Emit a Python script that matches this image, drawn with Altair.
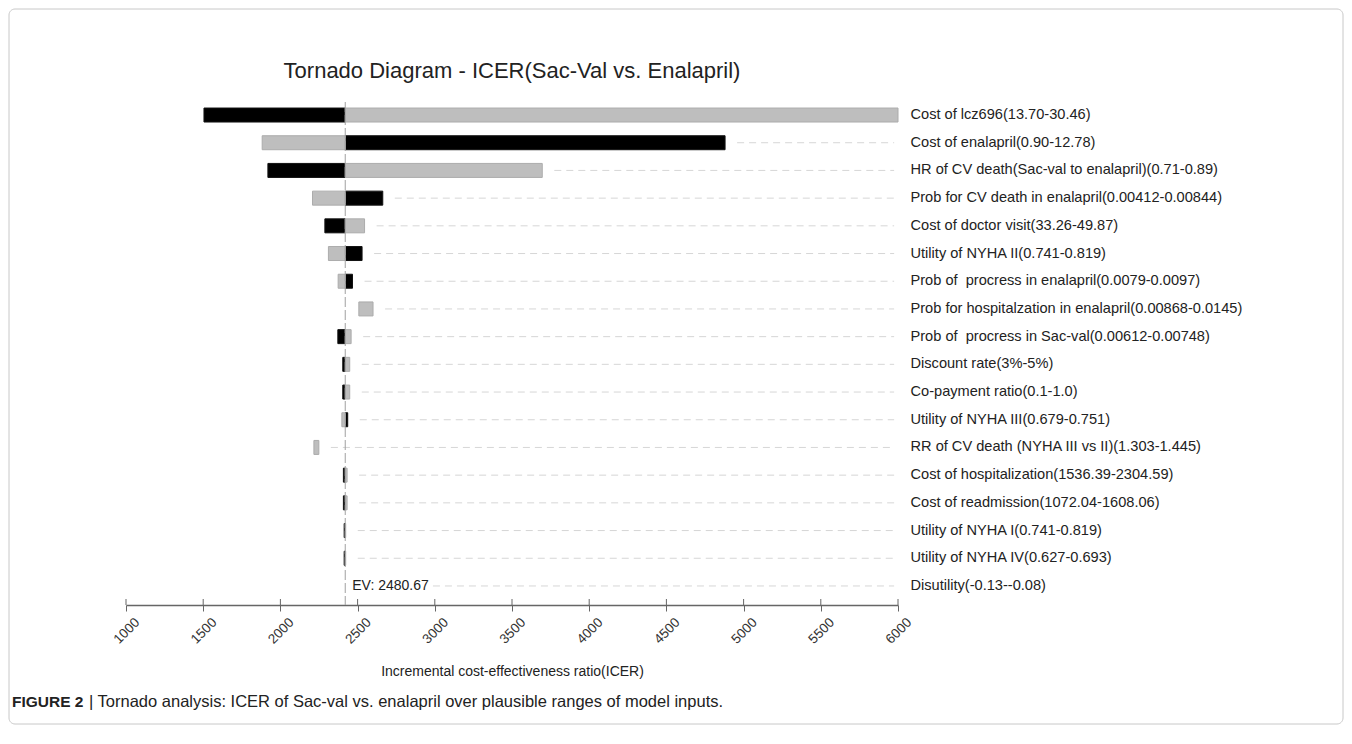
import altair as alt
import pandas as pd

# ---------------- data ----------------
params = [
    "Cost of lcz696(13.70-30.46)",
    "Cost of enalapril(0.90-12.78)",
    "HR of CV death(Sac-val to enalapril)(0.71-0.89)",
    "Prob for CV death in enalapril(0.00412-0.00844)",
    "Cost of doctor visit(33.26-49.87)",
    "Utility of NYHA II(0.741-0.819)",
    "Prob of\u00a0 procress in enalapril(0.0079-0.0097)",
    "Prob for hospitalzation in enalapril(0.00868-0.0145)",
    "Prob of\u00a0 procress in Sac-val(0.00612-0.00748)",
    "Discount rate(3%-5%)",
    "Co-payment ratio(0.1-1.0)",
    "Utility of NYHA III(0.679-0.751)",
    "RR of CV death (NYHA III vs II)(1.303-1.445)",
    "Cost of hospitalization(1536.39-2304.59)",
    "Cost of readmission(1072.04-1608.06)",
    "Utility of NYHA I(0.741-0.819)",
    "Utility of NYHA IV(0.627-0.693)",
    "Disutility(-0.13--0.08)",
]
black_start = [1505, 2420, 1919, 2420, 2288, 2420, 2420, None, 2372, 2404, 2404, 2420, None, 2408, 2408, 2413, 2413, None]
black_end   = [2420, 4880, 2420, 2663, 2420, 2529, 2467, None, 2420, 2420, 2420, 2436, None, 2420, 2420, 2420, 2420, None]
grey_start  = [2420, 1882, 2420, 2208, 2420, 2311, 2374, 2508, 2420, 2420, 2420, 2398, 2217, 2420, 2420, 2420, 2420, None]
grey_end    = [6000, 2420, 3696, 2420, 2545, 2420, 2420, 2600, 2458, 2449, 2449, 2420, 2249, 2432, 2432, 2423, 2423, None]

ev_position = 2420
ev_label = "EV: 2480.67"
x_ticks = [1000, 1500, 2000, 2500, 3000, 3500, 4000, 4500, 5000, 5500, 6000]

title_text = "Tornado Diagram - ICER(Sac-Val vs. Enalapril)"
x_title = "Incremental cost-effectiveness ratio(ICER)"
caption_bold = "FIGURE 2"
caption_rest = "| Tornado analysis: ICER of Sac-val vs. enalapril over plausible ranges of model inputs."

# ---------------- tables ----------------
rows = []
for i, p in enumerate(params):
    if black_start[i] is not None:
        rows.append(dict(param=p, series="black", start=black_start[i], end=black_end[i]))
    if grey_start[i] is not None:
        rows.append(dict(param=p, series="grey", start=grey_start[i], end=grey_end[i]))
bars = pd.DataFrame(rows)

GAP = 78          # gap (in data units) between bar end and dashed guide
GRID_END = 5975
LABEL_SKIP = 490  # guide starts after the EV label on the row without bars
grid_rows = []
for i, p in enumerate(params):
    ends = [v for v in (black_start[i], black_end[i], grey_start[i], grey_end[i]) if v is not None]
    if ends:
        s = max(ends) + GAP
    else:
        s = ev_position + GAP + LABEL_SKIP
    if s < GRID_END:
        grid_rows.append(dict(param=p, start=s, end=GRID_END))
grid = pd.DataFrame(grid_rows)

ev_df = pd.DataFrame([dict(x=ev_position, label=ev_label, param=params[-1])])
ticks_df = pd.DataFrame(dict(x=x_ticks))

W, H = 772, 505
FONT = "Liberation Sans"

xscale = alt.Scale(domain=[1000, 6000], nice=False, zero=False)
yscale = alt.Scale(paddingInner=0.495, paddingOuter=0.3625, align=0.4)
xaxis = alt.Axis(values=x_ticks, labelAngle=-45, labelAlign="right", labelBaseline="top",
                 labelFontSize=13.5, labelColor="#333", labelFont=FONT, labelOffset=6,
                 labelPadding=4, tickSize=6, tickColor="#666", domainColor="#666",
                 domainWidth=1.5, grid=False, title=x_title, titleFont=FONT,
                 titleFontSize=14, titleFontWeight="normal", titleColor="#222",
                 titlePadding=19, labelFlush=False, labelOverlap=False, format="d")
yaxis = alt.Axis(orient="right", ticks=False, domain=False, grid=False, title=None,
                 labelFontSize=14.6, labelColor="#222", labelFont=FONT, labelPadding=12,
                 labelLimit=500)

X = lambda f: alt.X(f, type="quantitative", scale=xscale, axis=xaxis)
Y = alt.Y("param:N", sort=params, scale=yscale, axis=yaxis)

bar_layer = alt.Chart(bars).mark_bar(strokeWidth=1).encode(
    x=X("start"), x2="end", y=Y,
    color=alt.Color("series:N", scale=alt.Scale(domain=["black", "grey"], range=["#000000", "#bebebe"]), legend=None),
    stroke=alt.Stroke("series:N", scale=alt.Scale(domain=["black", "grey"], range=["#111111", "#acacac"]), legend=None),
)

grid_layer = alt.Chart(grid).mark_rule(color="#d6d6d6", strokeWidth=1, strokeDash=[7, 5]).encode(
    x=X("start"), x2="end", y=Y
)

ev_line = alt.Chart(ev_df).mark_rule(color="#a0a0a0", strokeWidth=1, strokeDash=[10, 3]).encode(
    x=X("x"), y=alt.value(2), y2=alt.value(H)
)

ev_text = alt.Chart(ev_df).mark_text(align="left", baseline="middle", dx=7, fontSize=14,
                                     font=FONT, color="#222").encode(
    x=X("x"), y=Y, text="label:N"
)

inner_ticks = alt.Chart(ticks_df).mark_rule(color="#666", strokeWidth=1).encode(
    x=X("x"), y=alt.value(H - 6), y2=alt.value(H)
)

frame = alt.Chart(ev_df).mark_rect(fill=None, stroke="#c8c8c8", strokeWidth=1, cornerRadius=6).encode(
    x=alt.value(-117), x2=alt.value(1217), y=alt.value(-91), y2=alt.value(624)
)

title_mark = alt.Chart(ev_df).mark_text(align="center", baseline="alphabetic", fontSize=22,
                                        font=FONT, color="#222").encode(
    x=alt.value(W / 2), y=alt.value(-22), text=alt.value(title_text)
)

cap1 = alt.Chart(ev_df).mark_text(align="left", baseline="middle", fontSize=15.5, font=FONT,
                                  fontWeight="bold", color="#222").encode(
    x=alt.value(-114), y=alt.value(602), text=alt.value(caption_bold)
)
cap2 = alt.Chart(ev_df).mark_text(align="left", baseline="middle", fontSize=16.5, font=FONT,
                                  color="#222").encode(
    x=alt.value(-37), y=alt.value(602), text=alt.value(caption_rest)
)

chart = alt.layer(frame, grid_layer, bar_layer, ev_line, ev_text, inner_ticks,
                  title_mark, cap1, cap2).properties(
    width=W, height=H,
    autosize=alt.AutoSizeParams(type="none"),
    padding={"left": 118, "top": 92, "right": 446, "bottom": 131},
).configure(background="white", view=alt.ViewConfig(stroke=None))

chart.save("out.html", embed_options={"renderer": "svg", "actions": False})
